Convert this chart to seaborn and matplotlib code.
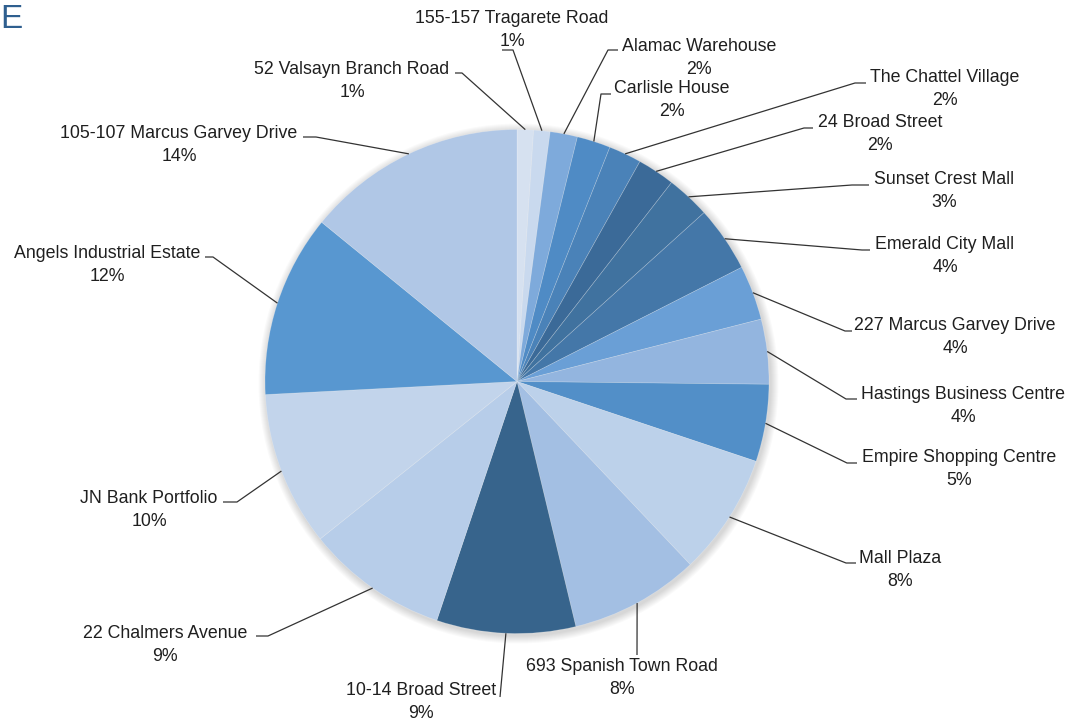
import numpy as np
import seaborn as sns
import matplotlib.pyplot as plt
from matplotlib.patches import Circle

sns.set_theme(style="white")
plt.rcParams['font.family'] = ['Liberation Sans', 'DejaVu Sans']

# data (clockwise from 12 o'clock)
properties = ['52 Valsayn Branch Road', '155-157 Tragarete Road', 'Alamac Warehouse',
              'Carlisle House', 'The Chattel Village', '24 Broad Street',
              'Sunset Crest Mall', 'Emerald City Mall', '227 Marcus Garvey Drive',
              'Hastings Business Centre', 'Empire Shopping Centre', 'Mall Plaza',
              '693 Spanish Town Road', '10-14 Broad Street', '22 Chalmers Avenue',
              'JN Bank Portfolio', 'Angels Industrial Estate', '105-107 Marcus Garvey Drive']
shares = [1.05, 1.05, 1.75, 2.15, 2.1, 2.4, 2.8, 4.2, 3.5, 4.15, 4.95, 7.8,
          8.3, 8.9, 9.1, 9.9, 11.7, 14.1]
pct_labels = ['1%', '1%', '2%', '2%', '2%', '2%', '3%', '4%', '4%', '4%', '5%', '8%',
              '8%', '9%', '9%', '10%', '12%', '14%']
colors = ['#d6e1f0', '#c9d9ee', '#7eaadb', '#4f8bc5', '#4a82b8', '#3b6a98',
          '#40729f', '#4477a8', '#6a9fd6', '#93b5df', '#528fc8', '#bcd1ea',
          '#a3bfe3', '#37648c', '#b7cde9', '#c2d4eb', '#5897d0', '#b0c7e6']

# label layout in pixels: text centre, elbow of leader, end of leader
label_pos = {
    '52 Valsayn Branch Road': ((352, 81), (462, 73), (455, 73)),
    '155-157 Tragarete Road': ((512, 30), (513, 50), (502, 50)),
    'Alamac Warehouse': ((699, 58), (608, 50), (618, 50)),
    'Carlisle House': ((672, 100), (601, 94), (611, 94)),
    'The Chattel Village': ((945, 89), (855, 83), (866, 83)),
    '24 Broad Street': ((880, 134), (804, 128), (813, 128)),
    'Sunset Crest Mall': ((944, 191), (852, 185), (869, 185)),
    'Emerald City Mall': ((945, 256), (862, 250), (870, 250)),
    '227 Marcus Garvey Drive': ((955, 337), (845, 331), (852, 331)),
    'Hastings Business Centre': ((963, 406), (846, 399), (857, 399)),
    'Empire Shopping Centre': ((959, 469), (847, 463), (857, 463)),
    'Mall Plaza': ((900, 570), (846, 563), (856, 563)),
    '693 Spanish Town Road': ((622, 678), (637, 655), (637, 655)),
    '10-14 Broad Street': ((421, 702), (500, 697), (500, 697)),
    '22 Chalmers Avenue': ((165, 645), (268, 636), (256, 636)),
    'JN Bank Portfolio': ((149, 510), (237, 502), (223, 502)),
    'Angels Industrial Estate': ((107, 265), (213, 257), (205, 257)),
    '105-107 Marcus Garvey Drive': ((179, 145), (316, 137), (303, 137)),
}

W, H = 1085, 722
cx, cy, R = 517, H - 381.5, 252


def Y(y):
    return H - y


fig = plt.figure(figsize=(W / 100, H / 100), dpi=100)
ax = fig.add_axes([0, 0, 1, 1])

# soft shadow behind the pie
for i in range(8):
    ax.add_patch(Circle((cx + 1.5, cy - 2), R + 1 + i * 1.0, color='black',
                        alpha=0.018, lw=0, zorder=0))

wedges, _ = ax.pie(shares, colors=colors, startangle=90, counterclock=False,
                   center=(cx, cy), radius=R,
                   wedgeprops=dict(linewidth=0.5, edgecolor=(1, 1, 1, 0.25)))

for w, name, pct in zip(wedges, properties, pct_labels):
    ang = np.deg2rad((w.theta1 + w.theta2) / 2)
    ax_, ay_ = cx + R * np.cos(ang), cy + R * np.sin(ang)
    (tx, ty), (kx, ky), (ex, ey) = label_pos[name]
    ax.plot([ax_, kx, ex], [ay_, Y(ky), Y(ey)], color='#333333', lw=0.9,
            solid_capstyle='butt', zorder=3)
    ax.text(tx, Y(ty), f"{name}\n{pct}", ha='center', va='center',
            multialignment='center', fontsize=12.8, color='#1f1f1f',
            linespacing=1.5, zorder=4)

# cut-off title fragment at the top left
ax.text(0, Y(20), 'E', ha='left', va='center', fontsize=24, color='#2f5f8f')

ax.set_xlim(0, W)
ax.set_ylim(0, H)
ax.set_aspect('equal')
ax.axis('off')

plt.savefig('out.png', dpi=100)
